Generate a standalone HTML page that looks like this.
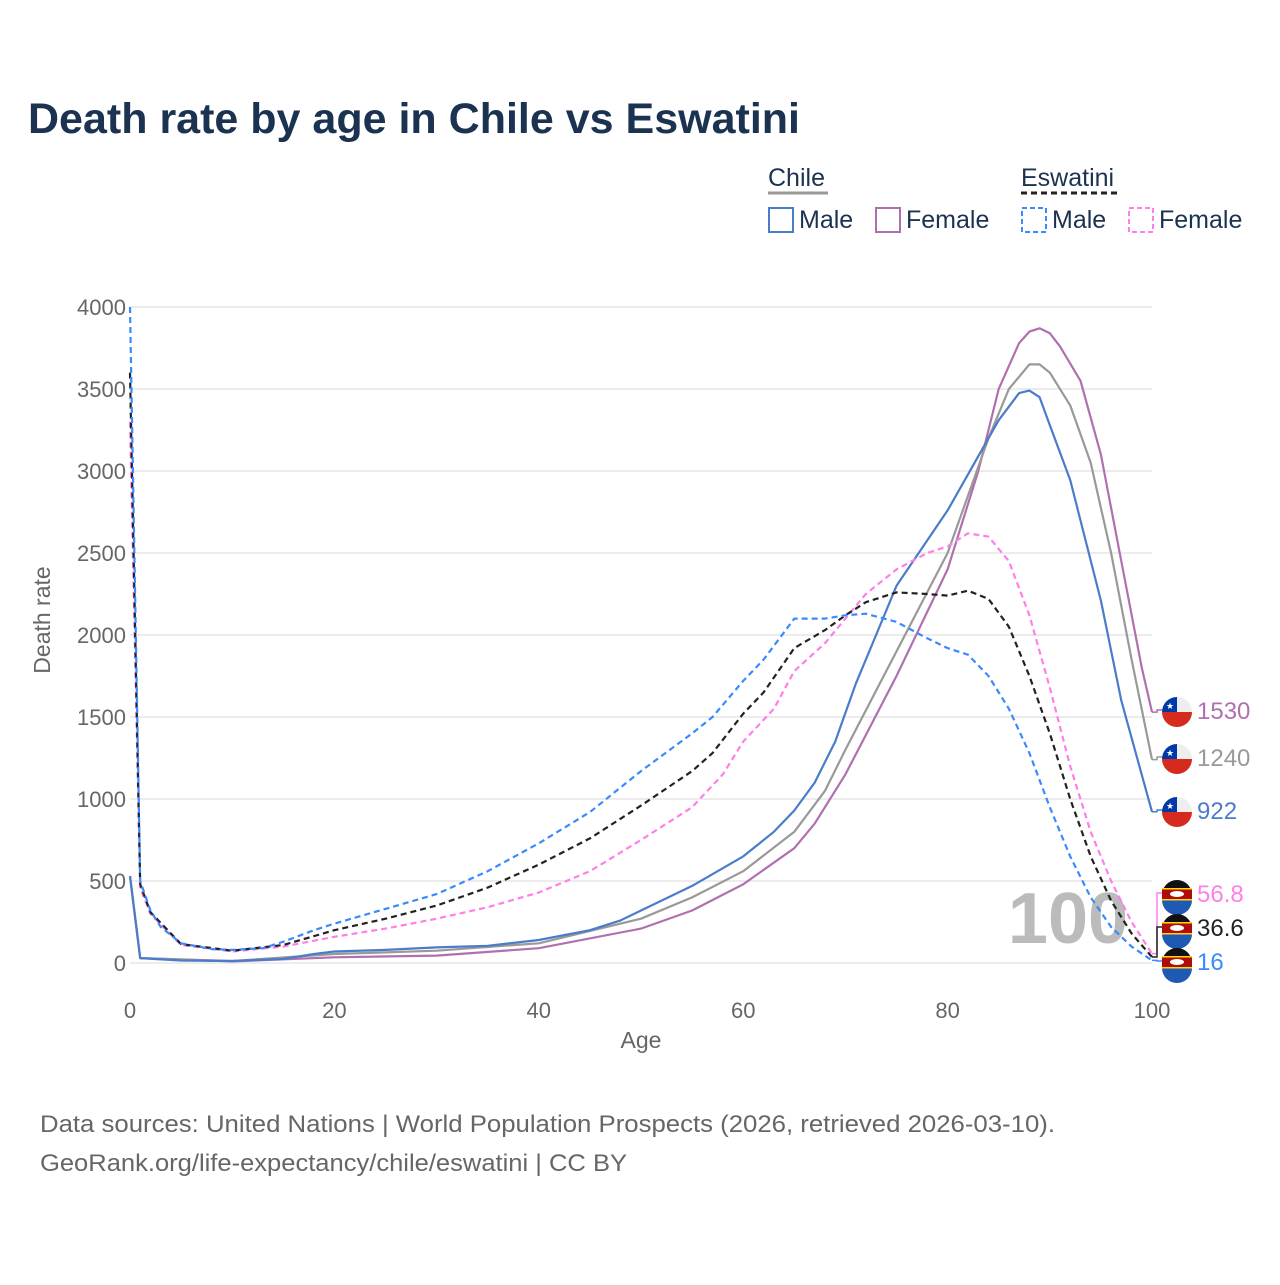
<!DOCTYPE html>
<html><head><meta charset="utf-8"><style>
body{margin:0;background:#fff;font-family:"Liberation Sans",sans-serif}
svg text{font-family:"Liberation Sans",sans-serif}
</style></head><body>
<svg id="chart" width="1280" height="1280" xmlns="http://www.w3.org/2000/svg">
<text x="28" y="133" font-size="43" font-weight="bold" fill="#1b3251" textLength="772" lengthAdjust="spacingAndGlyphs">Death rate by age in Chile vs Eswatini</text>
<g font-size="25" fill="#1b3251">
<text x="768" y="186" fill="#1b3251">Chile</text>
<line x1="768" y1="193" x2="828" y2="193" stroke="#999" stroke-width="3"/>
<text x="1021" y="186" fill="#1b3251">Eswatini</text>
<line x1="1021" y1="193" x2="1117" y2="193" stroke="#222" stroke-width="3" stroke-dasharray="6,4"/>
<g><rect x="769" y="208" width="24" height="24" fill="none" stroke="#4a7cc9" stroke-width="2"/><text x="799" y="228">Male</text></g>
<g><rect x="876" y="208" width="24" height="24" fill="none" stroke="#b070b0" stroke-width="2"/><text x="906" y="228">Female</text></g>
<g><rect x="1022" y="208" width="24" height="24" fill="none" stroke="#3a8aff" stroke-width="2" stroke-dasharray="5,3"/><text x="1052" y="228">Male</text></g>
<g><rect x="1129" y="208" width="24" height="24" fill="none" stroke="#ff7ee8" stroke-width="2" stroke-dasharray="5,3"/><text x="1159" y="228">Female</text></g>
</g>
<g id="grid"></g><g id="axes"></g>
<text x="1068" y="943" font-size="72" font-weight="bold" fill="#bbb" text-anchor="middle">100</text>
<g id="series"></g><g id="ends"></g>
<text x="641" y="1048" font-size="23" fill="#666" text-anchor="middle">Age</text>
<text transform="translate(50,620) rotate(-90)" font-size="23" fill="#666" text-anchor="middle">Death rate</text>
<text x="40" y="1132" font-size="24" fill="#666" textLength="1015" lengthAdjust="spacingAndGlyphs">Data sources: United Nations | World Population Prospects (2026, retrieved 2026-03-10).</text>
<text x="40" y="1171" font-size="24" fill="#666" textLength="587" lengthAdjust="spacingAndGlyphs">GeoRank.org/life-expectancy/chile/eswatini | CC BY</text>
</svg>
<script>
const xTicks=[0,20,40,60,80,100];
const yTicks=[0,500,1000,1500,2000,2500,3000,3500,4000];
const chileMaleAges=[0,1,5,10,15,18,20,25,30,35,40,45,48,50,55,60,63,65,67,69,71,73,75,80,85,87,88,89,90,92,95,97,100];
const chileMaleVals=[530,30,15,12,25,55,70,80,95,105,140,200,260,320,470,650,800,930,1100,1350,1700,2000,2300,2760,3310,3475,3490,3450,3280,2945,2210,1600,922];
const chileAllAges=[0,1,10,20,30,40,50,55,60,65,68,70,75,80,84,86,88,89,90,92,94,96,98,100];
const chileAllVals=[530,30,12,55,75,120,270,400,560,800,1050,1300,1900,2500,3200,3500,3650,3650,3600,3400,3050,2500,1850,1240];
const chileFemAges=[0,1,10,20,30,40,50,55,60,65,67,70,75,80,83,85,87,88,89,90,91,93,95,97,99,100];
const chileFemVals=[530,30,10,35,45,90,210,320,480,700,850,1150,1750,2400,3000,3500,3780,3850,3870,3840,3760,3550,3100,2450,1800,1530];
const eswMaleAges=[0,1,2,3,5,8,10,13,15,18,20,25,30,35,40,45,50,55,57,60,62,65,68,70,72,75,78,80,82,84,86,88,90,92,94,96,98,100];
const eswMaleVals=[4000,500,320,220,120,85,80,90,130,200,240,330,420,560,730,920,1170,1400,1500,1720,1850,2100,2100,2120,2130,2080,1980,1920,1880,1750,1550,1280,950,650,400,220,100,16];
const eswAllAges=[0,1,2,5,10,15,20,25,30,35,40,45,50,55,57,60,62,65,68,70,72,75,78,80,82,84,86,88,90,92,94,96,98,100];
const eswAllVals=[3600,480,310,115,75,110,200,270,350,460,600,760,960,1170,1280,1520,1650,1920,2030,2120,2200,2260,2250,2240,2270,2220,2050,1750,1400,1000,650,380,180,36.6];
const eswFemAges=[0,1,2,5,10,15,20,25,30,35,40,45,50,55,58,60,63,65,68,70,72,75,78,80,82,84,86,88,90,92,94,96,98,100];
const eswFemVals=[3300,460,300,110,70,100,160,210,270,340,430,560,750,950,1150,1350,1550,1780,1950,2100,2250,2400,2500,2540,2620,2600,2450,2120,1680,1200,800,500,250,56.8];
const endLabels=["1530","1240","922","56.8","36.6","16"];

const NS="http://www.w3.org/2000/svg";
const X=a=>130+a*10.22, Y=v=>963-v*0.164;
function mk(tag,attrs,parent){const e=document.createElementNS(NS,tag);for(const k in attrs)e.setAttribute(k,attrs[k]);parent.appendChild(e);return e;}
const grid=document.getElementById('grid'),axes=document.getElementById('axes'),series=document.getElementById('series'),ends=document.getElementById('ends');
yTicks.forEach(v=>{
 const l=mk('line',{x1:130,x2:1152,y1:Y(v),y2:Y(v),stroke:'#e6e6e6','stroke-width':1.5},grid);
 
 
 const t=mk('text',{x:126,y:Y(v)+8,'font-size':22,fill:'#666','text-anchor':'end'},axes);t.textContent=v;
 
 
});
xTicks.forEach(a=>{
 const t=mk('text',{x:X(a),y:1018,'font-size':22,fill:'#666','text-anchor':'middle'},axes);t.textContent=a;
 
 
});
const defs=[
 ['chile-female-line',chileFemAges,chileFemVals,'#b070b0',null,710],
 ['chile-total-line',chileAllAges,chileAllVals,'#999',null,757],
 ['chile-male-line',chileMaleAges,chileMaleVals,'#4a7cc9',null,810],
 ['eswatini-female-line',eswFemAges,eswFemVals,'#ff7ee8','6,4',893],
 ['eswatini-total-line',eswAllAges,eswAllVals,'#222','6,4',927],
 ['eswatini-male-line',eswMaleAges,eswMaleVals,'#3a8aff','6,4',961]];
defs.forEach((d,i)=>{
 const pts=d[1].map((a,j)=>X(a).toFixed(1)+','+Y(d[2][j]).toFixed(1)).join(' ');
 const p=mk('polyline',{points:pts,fill:'none',stroke:d[3],'stroke-width':2.2,'stroke-linejoin':'round'},series);
 if(d[4])p.setAttribute('stroke-dasharray',d[4]);
 
 
 const endY=Y(d[2][d[2].length-1]);
 mk('polyline',{points:`1152,${endY} 1157,${endY} 1157,${d[5]} 1163,${d[5]}`,fill:'none',stroke:d[3],'stroke-width':1.5},ends);
 const g=mk('g',{},ends);
 
 
 const cx=1177,cy=d[5]+2,r=15;
 if(i<3){
  mk('path',{d:`M${cx-r},${cy} A${r},${r} 0 0 1 ${cx+r},${cy} Z`,fill:'#eee'},g);
  mk('path',{d:`M${cx-r},${cy} A${r},${r} 0 0 1 ${cx},${cy-r} L${cx},${cy} Z`,fill:'#0039a6'},g);
  mk('path',{d:`M${cx-r},${cy} A${r},${r} 0 0 0 ${cx+r},${cy} Z`,fill:'#d52b1e'},g);
  const s=mk('text',{x:cx-7,y:cy-3,'font-size':9,fill:'#fff','text-anchor':'middle'},g);s.textContent='★';
 }else{
  mk('circle',{cx,cy,r,fill:'#111'},g);
  mk('path',{d:`M${cx-r},${cy+5} A${r},${r} 0 0 0 ${cx+r},${cy+5} Z`,fill:'#1e5ab4'},g);
  mk('rect',{x:cx-r,y:cy-6,width:2*r,height:10,fill:'#b10c0c'},g);
  mk('rect',{x:cx-r,y:cy-7,width:2*r,height:1.5,fill:'#ffd900'},g);
  mk('rect',{x:cx-r,y:cy+4,width:2*r,height:1.5,fill:'#ffd900'},g);
  mk('ellipse',{cx,cy:cy-1,rx:7,ry:3,fill:'#fff'},g);
 }
 const t=mk('text',{x:1197,y:d[5]+9,'font-size':24,fill:d[3]==='#222'?'#222':d[3]},ends);t.textContent=endLabels[i];
 
 
});
</script>
</body></html>
